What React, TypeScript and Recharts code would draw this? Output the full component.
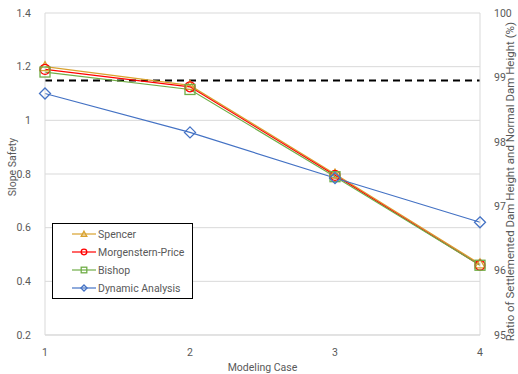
import React from "react";
import { LineChart, Line, XAxis, YAxis, CartesianGrid, Legend } from "recharts";

const cases = [1, 2, 3, 4];
const spencer = [1.2, 1.13, 0.8, 0.465];
const morgensternPrice = [1.19, 1.125, 0.795, 0.46];
const bishop = [1.18, 1.115, 0.79, 0.46];
const dynamicAnalysis = [1.1, 0.955, 0.785, 0.62];
const ratioThreshold = [98.95, 98.95, 98.95, 98.95];
const leftTicks = [0.2, 0.4, 0.6, 0.8, 1, 1.2, 1.4];
const rightTicks = [95, 96, 97, 98, 99, 100];

const data = cases.map((c, i) => ({
  case: c,
  spencer: spencer[i],
  mp: morgensternPrice[i],
  bishop: bishop[i],
  dynamic: dynamicAnalysis[i],
  ratio: ratioThreshold[i],
}));

const FONT = "Roboto, 'Liberation Sans', sans-serif";
const TXT = "#595959";

const series = [
  { key: "spencer", name: "Spencer", color: "#D9A22E", shape: "triangle" },
  { key: "mp", name: "Morgenstern-Price", color: "#FF0000", shape: "circle" },
  { key: "bishop", name: "Bishop", color: "#70AD47", shape: "square" },
  { key: "dynamic", name: "Dynamic Analysis", color: "#4472C4", shape: "diamond" },
];

function Marker({ cx, cy, shape, color, s }: any) {
  if (cx == null || cy == null) return null;
  const common = { fill: "none", stroke: color, strokeWidth: 1.3 };
  if (shape === "triangle")
    return <polygon points={`${cx},${cy - s} ${cx + s},${cy + s * 0.8} ${cx - s},${cy + s * 0.8}`} {...common} />;
  if (shape === "circle") return <circle cx={cx} cy={cy} r={s} {...common} />;
  if (shape === "square") return <rect x={cx - s} y={cy - s} width={2 * s} height={2 * s} {...common} />;
  return <polygon points={`${cx},${cy - s * 1.1} ${cx + s * 1.1},${cy} ${cx},${cy + s * 1.1} ${cx - s * 1.1},${cy}`} {...common} />;
}

function LegendBox() {
  return (
    <div
      style={{
        width: 139,
        height: 74,
        border: "1px solid #000",
        background: "#fff",
        fontFamily: FONT,
        fontSize: 10.5,
        color: TXT,
        boxSizing: "content-box",
      }}
    >
      <svg width={139} height={74}>
        {series.map((s, i) => {
          const y = 10 + i * 18;
          return (
            <g key={s.key}>
              <line x1={19} x2={43} y1={y} y2={y} stroke={s.color} strokeWidth={1.2} />
              <Marker cx={31} cy={y} shape={s.shape} color={s.color} s={2.8} />
              <text x={45} y={y + 3.8} fill={TXT} fontSize={10.5} fontFamily={FONT}>
                {s.name}
              </text>
            </g>
          );
        })}
      </svg>
    </div>
  );
}

export default function App() {
  return (
    <div style={{ position: "absolute", left: 0, top: 0, width: 518, height: 374, background: "#fff" }}>
      <LineChart width={518} height={374} data={data} margin={{ top: 13, right: 0, bottom: 0, left: 0 }}>
        <CartesianGrid yAxisId="left" vertical={false} stroke="#d9d9d9" />
        <XAxis
          dataKey="case"
          type="number"
          domain={[1, 4]}
          ticks={cases}
          height={39}
          axisLine={{ stroke: "#d9d9d9" }}
          tickLine={false}
          tickMargin={8}
          tick={{ fill: TXT, fontSize: 10.5, fontFamily: FONT }}
          label={(props: any) => {
            const vb = props.viewBox || {};
            return (
              <text x={vb.x + vb.width / 2} y={371} textAnchor="middle" fill={TXT} fontSize={10.5} fontFamily={FONT}>
                Modeling Case
              </text>
            );
          }}
        />
        <YAxis
          yAxisId="left"
          domain={[0.2, 1.4]}
          ticks={leftTicks}
          width={45}
          axisLine={{ stroke: "#d9d9d9" }}
          tickLine={false}
          tickMargin={8}
          tick={{ fill: TXT, fontSize: 10.5, fontFamily: FONT }}
          allowDataOverflow
          label={() => (
            <text
              x={16}
              y={167}
              transform="rotate(-90 16 167)"
              textAnchor="middle"
              fill={TXT}
              fontSize={10.5}
              fontFamily={FONT}
            >
              Slope Safety
            </text>
          )}
        />
        <YAxis
          yAxisId="right"
          orientation="right"
          domain={[95, 100]}
          ticks={rightTicks}
          width={38}
          axisLine={{ stroke: "#d9d9d9" }}
          tickLine={false}
          tickMargin={8}
          allowDataOverflow
          tick={{ fill: TXT, fontSize: 10.5, fontFamily: FONT, textAnchor: "start" }}
          label={() => (
            <text
              x={514}
              y={22}
              transform="rotate(-90 514 22)"
              textAnchor="end"
              fill={TXT}
              fontSize={11.5}
              fontFamily={FONT}
            >
              Ratio of Settlemented Dam Height and Normal Dam Height (%)
            </text>
          )}
        />
        <Line
          yAxisId="right"
          dataKey="ratio"
          stroke="#000"
          strokeWidth={2}
          strokeDasharray="7 5"
          dot={false}
          activeDot={false}
          legendType="none"
          isAnimationActive={false}
        />
        {series.map((s) => (
          <Line
            key={s.key}
            yAxisId="left"
            dataKey={s.key}
            name={s.name}
            stroke={s.color}
            strokeWidth={1.2}
            isAnimationActive={false}
            dot={(p: any) => <Marker key={`${s.key}-${p.index}`} cx={p.cx} cy={p.cy} shape={s.shape} color={s.color} s={5} />}
            activeDot={false}
          />
        ))}
        <Legend
          layout="vertical"
          align="center"
          verticalAlign="middle"
          content={() => <LegendBox />}
          wrapperStyle={{ position: "absolute", left: 52, top: 223, width: 141, height: 76 }}
        />
      </LineChart>
    </div>
  );
}
